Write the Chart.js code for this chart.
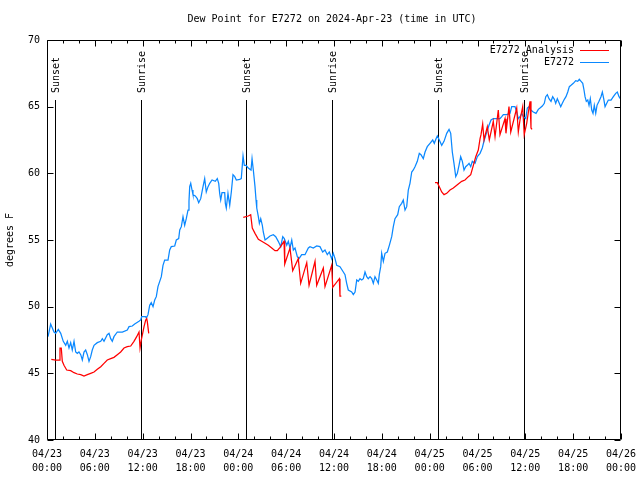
<!DOCTYPE html>
<html>
<head>
<meta charset="utf-8">
<script src="https://cdn.jsdelivr.net/npm/chart.js@4.4.1/dist/chart.umd.min.js"></script>
<style>
  html, body { margin: 0; padding: 0; background: #fff; }
</style>
</head>
<body>
<canvas id="dewChart" width="640" height="480"></canvas>
<script>
const titleText = 'Dew Point for E7272 on 2024-Apr-23 (time in UTC)';
const yAxisTitle = 'degrees F';
// one label per 6 hours, starting 04/23 00:00
const xTickLabels = [
  ['04/23', '00:00'], ['04/23', '06:00'], ['04/23', '12:00'], ['04/23', '18:00'],
  ['04/24', '00:00'], ['04/24', '06:00'], ['04/24', '12:00'], ['04/24', '18:00'],
  ['04/25', '00:00'], ['04/25', '06:00'], ['04/25', '12:00'], ['04/25', '18:00'],
  ['04/26', '00:00']
];

// sun events, hours since 04/23 00:00
const sunLabels = ['Sunset', 'Sunrise', 'Sunset', 'Sunrise', 'Sunset', 'Sunrise'];
const sunHours = [1.04, 11.83, 25.0, 35.79, 49.08, 59.87];

// E7272 observations (hours since 04/23 00:00, deg F)
const obsHours = [
  0.13, 0.46, 0.88, 1.09, 1.42, 1.72, 2.04, 2.35, 2.55, 2.76, 2.97, 3.17, 3.39, 3.60, 3.80, 4.01,
  4.23, 4.43, 4.64, 4.85, 5.06, 5.27, 5.48, 5.68, 5.90, 6.31, 6.74, 6.94, 7.15, 7.56, 7.78, 7.99,
  8.19, 8.40, 8.82, 9.45, 10.07, 10.29, 10.70, 11.00, 11.54, 11.75, 11.88, 12.38, 12.46, 12.67, 12.88, 13.08,
  13.30, 13.51, 13.71, 13.92, 14.14, 14.34, 14.55, 14.76, 15.18, 15.39, 15.59, 16.02, 16.22, 16.52, 16.65, 16.85,
  17.06, 17.27, 17.47, 17.69, 17.81, 17.90, 18.03, 18.19, 18.31, 18.60, 18.85, 19.03, 19.28, 19.57, 19.78, 19.98,
  20.20, 20.41, 20.70, 21.11, 21.36, 21.54, 21.66, 21.79, 21.95, 22.29, 22.37, 22.49, 22.70, 22.92, 23.12, 23.33,
  23.55, 23.75, 24.17, 24.37, 24.59, 24.75, 24.96, 25.25, 25.59, 25.72, 25.88, 26.09, 26.22, 26.31, 26.51, 26.64,
  26.81, 27.01, 27.13, 27.35, 27.56, 27.97, 28.39, 28.69, 29.01, 29.32, 29.57, 29.77, 30.07, 30.27, 30.48, 30.70,
  30.90, 31.11, 31.40, 31.61, 31.95, 32.36, 32.78, 32.99, 33.40, 33.83, 34.24, 34.58, 34.87, 35.16, 35.41, 35.71,
  35.91, 36.13, 36.34, 36.75, 37.17, 37.38, 37.59, 37.79, 38.22, 38.42, 38.64, 38.85, 39.05, 39.26, 39.48, 39.68,
  39.89, 40.10, 40.30, 40.52, 40.73, 40.93, 41.14, 41.36, 41.56, 41.68, 41.86, 41.98, 42.19, 42.40, 42.69, 42.94,
  43.24, 43.44, 43.65, 43.99, 44.19, 44.49, 44.69, 44.91, 45.12, 45.32, 45.53, 45.75, 45.95, 46.16, 46.45, 46.70,
  46.91, 47.20, 47.42, 47.70, 48.04, 48.38, 48.58, 48.80, 48.96, 49.21, 49.51, 49.80, 50.14, 50.43, 50.64, 50.84,
  51.05, 51.27, 51.47, 51.68, 51.89, 52.10, 52.31, 52.52, 52.72, 52.94, 53.15, 53.35, 53.69, 53.98, 54.32, 54.60,
  54.85, 55.16, 55.44, 55.70, 55.98, 56.82, 57.04, 57.24, 57.66, 58.08, 58.29, 58.70, 58.92, 59.12, 59.33, 59.55,
  59.75, 60.05, 60.25, 60.46, 60.68, 61.00, 61.34, 61.63, 61.84, 62.13, 62.38, 62.56, 62.76, 62.97, 63.22, 63.43,
  63.64, 63.81, 64.01, 64.26, 64.44, 64.64, 64.89, 65.10, 65.32, 65.52, 65.73, 66.02, 66.32, 66.57, 66.77, 66.99,
  67.20, 67.36, 67.49, 67.65, 67.83, 67.99, 68.15, 68.33, 68.49, 68.65, 68.83, 68.99, 69.24, 69.49, 69.66, 69.83,
  70.00, 70.21, 70.41, 70.75, 71.04, 71.34, 71.54, 71.75, 71.92
];
const obsValues = [
  47.75, 48.7, 48.1, 48.0, 48.3, 48.0, 47.4, 47.1, 47.4, 46.9, 47.3, 46.75, 47.4, 46.6, 46.5, 46.6,
  46.4, 46.0, 46.6, 46.75, 46.4, 45.9, 46.25, 46.75, 47.1, 47.3, 47.4, 47.6, 47.4, 47.9, 48.0, 47.6,
  47.4, 47.75, 48.1, 48.1, 48.25, 48.5, 48.55, 48.7, 48.9, 49.0, 49.25, 49.25, 49.15, 49.4, 50.1, 50.3,
  50.0, 50.5, 50.75, 51.5, 51.9, 52.25, 53.1, 53.5, 53.5, 54.25, 54.5, 54.55, 55.0, 55.1, 55.75, 56.0,
  56.75, 56.1, 56.6, 57.25, 57.9, 59.0, 59.25, 58.75, 58.4, 58.3, 58.1, 57.8, 58.1, 59.0, 59.6, 58.6,
  59.0, 59.25, 59.5, 59.4, 59.6, 59.25, 58.5, 58.0, 58.55, 58.55, 57.75, 57.4, 58.5, 57.6, 58.6, 59.9,
  59.75, 59.5, 59.55, 59.6, 61.3, 60.6, 60.6, 60.4, 60.25, 61.1, 60.25, 59.0, 58.0, 57.4, 56.75, 56.25,
  56.6, 56.1, 55.6, 55.0, 55.1, 55.3, 55.4, 55.25, 54.9, 54.5, 55.25, 55.1, 54.6, 54.9, 54.4, 55.0,
  54.25, 54.4, 53.75, 53.6, 53.9, 53.9, 54.4, 54.5, 54.4, 54.55, 54.5, 54.1, 54.25, 53.9, 54.1, 53.6,
  54.0, 53.6, 53.1, 53.0, 52.6, 52.4, 51.75, 51.25, 51.1, 50.9, 51.1, 52.0, 51.9, 52.1, 52.0, 52.1,
  52.6, 52.25, 52.1, 52.25, 52.1, 51.75, 52.25, 52.0, 51.75, 52.4, 53.0, 54.0, 53.4, 54.0, 54.1, 54.6,
  55.25, 56.0, 56.6, 56.9, 57.5, 57.75, 58.0, 57.25, 57.5, 58.75, 59.25, 60.1, 60.25, 60.5, 60.9, 61.5,
  61.4, 61.1, 61.6, 62.0, 62.25, 62.5, 62.25, 62.6, 62.8, 62.5, 62.1, 62.4, 63.0, 63.3, 63.0, 61.6,
  60.75, 59.75, 60.0, 60.6, 61.25, 60.9, 60.25, 60.5, 60.6, 60.75, 60.5, 60.9, 60.75, 61.25, 61.5, 61.9,
  62.5, 63.1, 63.6, 64.0, 64.1, 64.1, 64.25, 64.4, 64.4, 64.5, 65.0, 65.0, 64.6, 64.1, 64.25, 64.5,
  64.25, 64.1, 64.9, 65.0, 64.75, 64.6, 64.5, 64.8, 64.9, 65.05, 65.25, 65.75, 65.9, 65.6, 65.4, 65.75,
  65.55, 65.25, 65.6, 65.25, 65.0, 65.25, 65.55, 65.75, 66.1, 66.5, 66.6, 66.75, 66.95, 66.9, 67.05, 66.9,
  66.75, 66.25, 65.75, 65.4, 65.5, 65.1, 65.6, 64.75, 64.5, 65.1, 64.5, 65.1, 65.4, 65.75, 66.1, 65.6,
  65.0, 65.25, 65.5, 65.5, 65.75, 66.0, 66.1, 65.75, 65.6
];

// E7272 Analysis (null = no analysis)
const anaHours = [
  0.54, 1.09, 1.51, 1.63, 1.79, 1.92, 2.13, 2.47, 2.97, 3.39, 3.80, 4.23, 4.64, 5.06, 5.48, 5.90,
  6.31, 6.74, 7.15, 7.56, 7.99, 8.40, 8.82, 9.24, 9.66, 10.07, 10.50, 10.91, 11.25, 11.54, 11.67, 11.83,
  12.00, 12.17, 12.38, 12.51, 12.58, 12.76, 13.0,
  24.62, 25.25, 25.55, 25.75, 26.09, 26.51, 26.93, 27.35, 27.76, 28.19, 28.60, 28.89, 29.23, 29.73, 29.82, 30.48,
  30.82, 31.52, 31.82, 32.58, 32.87, 33.62, 33.83, 34.66, 34.87, 35.71, 35.84, 36.67, 36.75, 36.92, 40.0,
  48.67, 48.96, 49.21, 49.51, 49.80, 50.14, 50.55, 50.97, 51.59, 52.02, 52.43, 52.85, 53.15, 53.48, 53.78, 54.10,
  54.32, 54.44, 54.65, 54.82, 55.23, 55.48, 55.98, 56.20, 56.61, 56.82, 57.45, 57.57, 57.95, 58.17, 58.92, 59.12,
  59.33, 59.67, 59.86, 60.17, 60.46, 60.59, 60.71, 60.84
];
const anaValues = [
  46.05, 46.0, 46.0, 46.9, 46.9, 45.9, 45.6, 45.25, 45.2, 45.05, 44.95, 44.9, 44.8, 44.9, 45.0, 45.1,
  45.3, 45.5, 45.75, 46.0, 46.1, 46.2, 46.4, 46.6, 46.9, 47.0, 47.05, 47.4, 47.75, 48.1, 46.9, 47.5,
  48.0, 48.5, 49.0, 49.1, 48.9, 48.0, null,
  56.7, 56.8, 56.9, 55.9, 55.5, 55.05, 54.9, 54.75, 54.6, 54.4, 54.2, 54.2, 54.45, 54.9, 53.2, 54.4,
  52.7, 53.6, 51.75, 53.3, 51.6, 53.4, 51.6, 52.9, 51.5, 53.1, 51.45, 52.1, 50.8, 50.8, null,
  59.3, 59.3, 59.0, 58.6, 58.4, 58.5, 58.75, 58.9, 59.2, 59.4, 59.5, 59.75, 59.9, 60.6, 61.25, 61.75,
  62.6, 62.9, 63.7, 62.5, 63.5, 62.5, 63.9, 62.75, 64.75, 62.9, 64.1, 63.0, 65.0, 63.1, 64.9, 63.1,
  64.0, 65.0, 62.9, 63.75, 64.9, 65.4, 63.4, 63.3
];

const monoFont = { family: "'DejaVu Sans Mono', 'Liberation Mono', monospace", size: 10, weight: 'normal' };
const fontCss = "10px 'DejaVu Sans Mono', 'Liberation Mono', monospace";

const toPoints = (xs, ys) => xs.map((x, i) => ({ x: x, y: ys[i] }));

// title centred over the plot, not the canvas
const titlePlugin = {
  id: 'plotTitle',
  afterDraw(chart) {
    const { ctx, chartArea: a } = chart;
    ctx.save();
    ctx.font = fontCss;
    ctx.fillStyle = '#000';
    ctx.textAlign = 'center';
    ctx.textBaseline = 'middle';
    ctx.fillText(titleText, (a.left + a.right) / 2 - 2, 19);
    ctx.restore();
  }
};

// box around the plot with inward ticks, like gnuplot
const framePlugin = {
  id: 'frame',
  afterDatasetsDraw(chart) {
    const { ctx, chartArea: a, scales } = chart;
    const L = Math.round(a.left) + 0.5, R = Math.round(a.right) - 0.5;
    const T = Math.round(a.top) + 0.5, B = Math.round(a.bottom) - 0.5;
    ctx.save();
    ctx.strokeStyle = '#000';
    ctx.lineWidth = 1;
    ctx.beginPath();
    ctx.rect(L, T, R - L, B - T);
    for (let h = 0; h <= 72; h += 2) {
      const x = Math.round(scales.x.getPixelForValue(h)) + 0.5;
      const len = h % 6 === 0 ? 6 : 3;
      ctx.moveTo(x, B); ctx.lineTo(x, B - len);
      ctx.moveTo(x, T); ctx.lineTo(x, T + len);
    }
    scales.y.ticks.forEach(t => {
      const y = Math.round(scales.y.getPixelForValue(t.value)) + 0.5;
      ctx.moveTo(L, y); ctx.lineTo(L + 6, y);
      ctx.moveTo(R, y); ctx.lineTo(R - 6, y);
    });
    ctx.stroke();
    ctx.restore();
  }
};

// sunrise / sunset markers
const sunPlugin = {
  id: 'sun',
  beforeDatasetsDraw(chart) {
    const { ctx, chartArea: a, scales } = chart;
    ctx.save();
    ctx.strokeStyle = '#000';
    ctx.lineWidth = 1;
    ctx.fillStyle = '#000';
    ctx.font = fontCss;
    sunHours.forEach((h, i) => {
      const x = Math.round(scales.x.getPixelForValue(h)) + 0.5;
      ctx.beginPath();
      ctx.moveTo(x, a.top + 60);
      ctx.lineTo(x, a.bottom);
      ctx.stroke();
      ctx.save();
      ctx.translate(x + 1, a.top + 53);
      ctx.rotate(-Math.PI / 2);
      ctx.textAlign = 'left';
      ctx.textBaseline = 'middle';
      ctx.fillText(sunLabels[i], 0, 0);
      ctx.restore();
    });
    ctx.restore();
  }
};

// key in the top right corner
const keyPlugin = {
  id: 'key',
  afterDraw(chart) {
    const { ctx, chartArea: a } = chart;
    const right = a.right - 47;
    ctx.save();
    ctx.font = fontCss;
    ctx.fillStyle = '#000';
    ctx.textAlign = 'right';
    ctx.textBaseline = 'middle';
    chart.data.datasets.forEach((ds, i) => {
      const y = a.top + 10 + i * 12;
      ctx.fillText(ds.label, right, y);
      ctx.strokeStyle = ds.borderColor;
      ctx.lineWidth = 1;
      ctx.beginPath();
      ctx.moveTo(right + 6, Math.round(y) + 0.5);
      ctx.lineTo(right + 35, Math.round(y) + 0.5);
      ctx.stroke();
    });
    ctx.restore();
  }
};

const ctx = document.getElementById('dewChart').getContext('2d');
new Chart(ctx, {
  type: 'line',
  data: {
    datasets: [
      {
        label: 'E7272 Analysis',
        data: toPoints(anaHours, anaValues),
        borderColor: '#ff0000',
        borderWidth: 1.25,
        pointRadius: 0,
        tension: 0,
        spanGaps: false
      },
      {
        label: 'E7272',
        data: toPoints(obsHours, obsValues),
        borderColor: '#0a88ff',
        borderWidth: 1.25,
        pointRadius: 0,
        tension: 0
      }
    ]
  },
  options: {
    responsive: false,
    animation: false,
    layout: { padding: { top: 40, right: 19 } },
    plugins: {
      legend: { display: false },
      tooltip: { enabled: false },
      title: { display: false }
    },
    scales: {
      x: {
        type: 'linear',
        min: 0,
        max: 72,
        grid: { display: false, drawTicks: false },
        border: { display: false },
        ticks: {
          stepSize: 6,
          autoSkip: false,
          maxRotation: 0,
          padding: 7,
          color: '#000',
          font: { ...monoFont, lineHeight: 1.4 },
          callback: v => xTickLabels[Math.round(v / 6)]
        },
        afterFit: s => { s.height = 40; s.paddingLeft = 0; s.paddingRight = 0; }
      },
      y: {
        min: 40,
        max: 70,
        grid: { display: false, drawTicks: false },
        border: { display: false },
        ticks: { stepSize: 5, padding: 7, color: '#000', font: monoFont },
        title: { display: true, text: yAxisTitle, color: '#000', font: monoFont, padding: { top: 4, bottom: 0 } },
        afterFit: s => { s.width = 47; s.paddingTop = 0; s.paddingBottom = 0; }
      }
    }
  },
  plugins: [framePlugin, sunPlugin, keyPlugin, titlePlugin]
});
</script>
</body>
</html>
